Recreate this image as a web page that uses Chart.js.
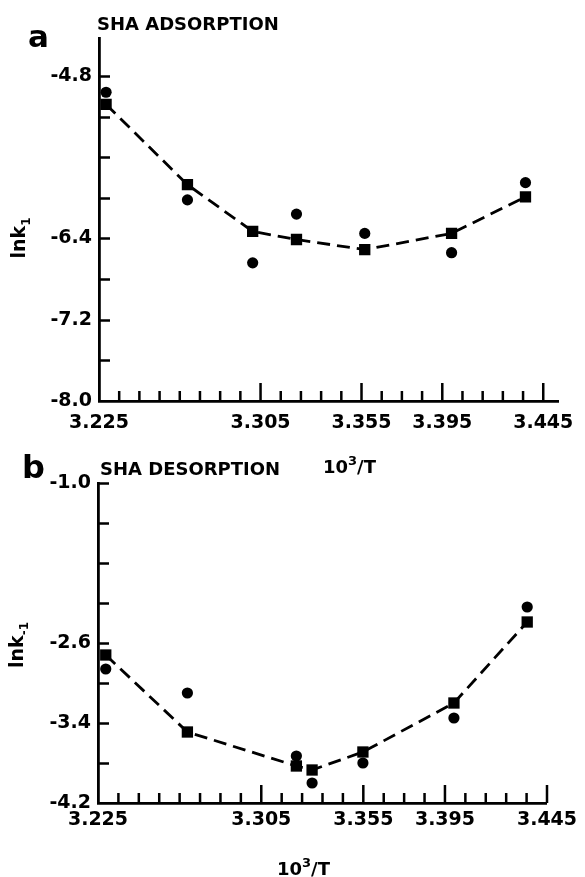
<!DOCTYPE html>
<html><head><meta charset="utf-8">
<script src="https://cdn.jsdelivr.net/npm/chart.js@4.4.0/dist/chart.umd.min.js"></script>
<style>
html,body{margin:0;padding:0;background:#fff;width:585px;height:877px;overflow:hidden;}
.wrap{position:absolute;left:0;width:585px;}
canvas{display:block;}
</style></head><body>
<div class="wrap" style="top:0;height:480px"><canvas id="ca" width="585" height="480"></canvas></div>
<div class="wrap" style="top:440px;height:437px"><canvas id="cb" width="585" height="437"></canvas></div>
<script>
// ---- data ----
const tempA = [3.2285, 3.2688, 3.3011, 3.3228, 3.3566, 3.3996, 3.4362];
const adsCircles = [-4.96, -6.02, -6.64, -6.16, -6.35, -6.54, -5.85];
const adsSquares = [-5.08, -5.87, -6.33, -6.41, -6.51, -6.35, -5.99];
const tempB = [3.2288, 3.2688, 3.3222, 3.3299, 3.3548, 3.3994, 3.4353];
const desCircles = [-2.86, -3.10, -3.73, -4.00, -3.80, -3.35, -2.24];
const desSquares = [-2.72, -3.49, -3.83, -3.87, -3.69, -3.20, -2.39];
const xTickValues = [3.225, 3.305, 3.355, 3.395, 3.445];
const yTickValuesA = [-8.0, -7.2, -6.4, -4.8];
const yTickValuesB = [-4.2, -3.4, -2.6, -1.0];

const FONT = '"DejaVu Sans", sans-serif';

function pts(xs, ys) { return xs.map((x, i) => ({x: x, y: ys[i]})); }

function textPlugin(items) {
  return {
    id: 'extraText',
    afterDraw(chart) {
      const ctx = chart.ctx;
      ctx.save();
      ctx.fillStyle = '#000';
      ctx.textBaseline = 'alphabetic';
      ctx.textAlign = 'left';
      items.forEach(it => {
        ctx.save();
        ctx.translate(it.x, it.y);
        if (it.rot) ctx.rotate(it.rot);
        let w = 0;
        it.parts.forEach(p => { ctx.font = 'bold ' + p.size + 'px ' + FONT; w += ctx.measureText(p.t).width; });
        let x = it.center ? -w / 2 : 0;
        it.parts.forEach(p => {
          ctx.font = 'bold ' + p.size + 'px ' + FONT;
          ctx.fillText(p.t, x, p.dy || 0);
          x += ctx.measureText(p.t).width;
        });
        ctx.restore();
      });
      ctx.restore();
    }
  };
}

const tickPlugin = {
  id: 'inTicks',
  afterDraw(chart) {
    const ctx = chart.ctx, xs = chart.scales.x, ys = chart.scales.y, a = chart.chartArea;
    const yMin = ys.min;
    ctx.save();
    ctx.strokeStyle = '#000';
    ctx.lineWidth = 2.5;
    ctx.beginPath();
    for (let i = 1; i <= 22; i++) {
      const v = 3.225 + i * 0.01;
      const px = xs.getPixelForValue(v);
      const major = xTickValues.slice(1).some(m => Math.abs(m - v) < 1e-6);
      ctx.moveTo(px, a.bottom);
      ctx.lineTo(px, a.bottom - (major ? 18 : 10));
    }
    for (let i = 1; i <= 8; i++) {
      const v = yMin + i * 0.4;
      const py = Math.round(ys.getPixelForValue(v)) + 0.5;
      ctx.moveTo(a.left, py);
      ctx.lineTo(a.left + 11, py);
    }
    ctx.stroke();
    ctx.restore();
  }
};

function makeChart(id, c) {
  const canvasH = c.canvasH;
  return new Chart(document.getElementById(id), {
    type: 'scatter',
    data: {
      datasets: [
        {
          data: pts(c.xs, c.squares), showLine: true, borderColor: '#000', borderWidth: 2.8,
          borderDash: [13, 7], pointStyle: 'rect', pointRadius: 8, pointHoverRadius: 8,
          backgroundColor: '#000', pointBorderWidth: 0, fill: false, tension: 0
        },
        {
          data: pts(c.xs, c.circles), showLine: false, pointStyle: 'circle', pointRadius: 5.6,
          pointHoverRadius: 5.6, backgroundColor: '#000', borderColor: '#000', pointBorderWidth: 0
        }
      ]
    },
    options: {
      responsive: false, animation: false, devicePixelRatio: 1,
      events: [],
      layout: { padding: { left: 0, top: c.area.top, right: 585 - c.area.right, bottom: canvasH - c.area.bottom - c.XH } },
      plugins: { legend: { display: false }, tooltip: { enabled: false } },
      scales: {
        x: {
          type: 'linear', min: 3.225, max: c.xMax,
          grid: { display: true, drawOnChartArea: false, drawTicks: false, color: 'rgba(0,0,0,0)', lineWidth: 0 },
          border: { display: true, color: '#000', width: 2.8 },
          ticks: {
            color: '#000', font: { family: FONT, size: 19, weight: 'bold' }, padding: c.xPad,
            maxRotation: 0, autoSkip: false, callback: v => Number(v).toFixed(3)
          },
          afterBuildTicks: s => { s.ticks = xTickValues.map(v => ({ value: v })); },
          afterFit: s => { s.height = c.XH; }
        },
        y: {
          type: 'linear', min: c.yMin, max: c.yMax,
          grid: { display: true, drawOnChartArea: false, drawTicks: false, color: 'rgba(0,0,0,0)', lineWidth: 0 },
          border: { display: true, color: '#000', width: 2.8 },
          ticks: {
            color: '#000', font: { family: FONT, size: 19, weight: 'bold' }, padding: 7,
            autoSkip: false, callback: v => Number(v).toFixed(1)
          },
          afterBuildTicks: s => { s.ticks = c.yTicks.map(v => ({ value: v })); },
          afterFit: s => { s.width = c.area.left; }
        }
      }
    },
    plugins: [tickPlugin, textPlugin(c.texts)]
  });
}

makeChart('ca', {
  xs: tempA, circles: adsCircles, squares: adsSquares,
  xMax: 3.453, yMin: -8.0, yMax: -4.426, yTicks: yTickValuesA,
  area: { left: 99, right: 565, top: 38, bottom: 401 }, canvasH: 480, XH: 36, xPad: 11,
  texts: [
    { x: 28, y: 47, parts: [{ t: 'a', size: 31 }] },
    { x: 97, y: 30, parts: [{ t: 'SHA ADSORPTION', size: 18 }] },
    { x: 25, y: 238, rot: -Math.PI / 2, center: true, parts: [{ t: 'lnk', size: 19 }, { t: '1', size: 12, dy: 5 }] },
    { x: 323, y: 473, parts: [{ t: '10', size: 18 }, { t: '3', size: 13, dy: -8 }, { t: '/T', size: 18 }] }
  ]
});

makeChart('cb', {
  xs: tempB, circles: desCircles, squares: desSquares,
  xMax: 3.445, yMin: -4.2, yMax: -1.0, yTicks: yTickValuesB,
  area: { left: 98, right: 547, top: 43, bottom: 363 }, canvasH: 437, XH: 30, xPad: 6,
  texts: [
    { x: 22, y: 38, parts: [{ t: 'b', size: 32 }] },
    { x: 100, y: 35, parts: [{ t: 'SHA DESORPTION', size: 18 }] },
    { x: 23, y: 205, rot: -Math.PI / 2, center: true, parts: [{ t: 'lnk', size: 19 }, { t: '-1', size: 12, dy: 5 }] },
    { x: 277, y: 435, parts: [{ t: '10', size: 18 }, { t: '3', size: 13, dy: -8 }, { t: '/T', size: 18 }] }
  ]
});
</script>
</body></html>
